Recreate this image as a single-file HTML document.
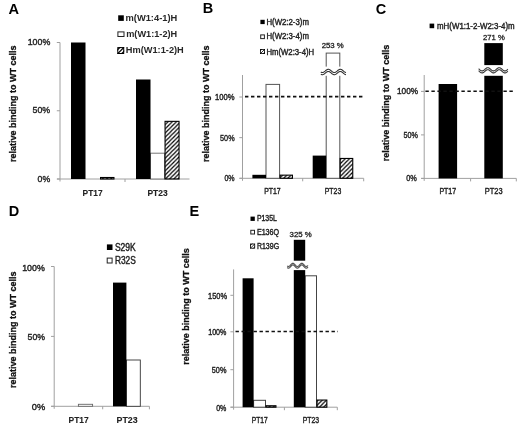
<!DOCTYPE html>
<html><head><meta charset="utf-8"><style>
html,body{margin:0;padding:0;background:#fff;}
svg{display:block;will-change:transform;filter:blur(0.35px);}
text{font-family:"Liberation Sans", sans-serif;}
</style></head><body>
<svg width="520" height="425" viewBox="0 0 520 425">
<rect width="520" height="425" fill="#fff"/>
<defs>
<pattern id="hp" patternUnits="userSpaceOnUse" width="4.2" height="4.2"><path d="M-1.05,1.05 L1.05,-1.05 M0,4.2 L4.2,0 M3.15,5.25 L5.25,3.15" stroke="#000" stroke-width="1.2"/></pattern>
</defs>
<text x="8.6" y="13.6" font-size="14.6" font-weight="bold" fill="#000" text-anchor="start">A</text>
<rect x="118.20" y="15.30" width="5.60" height="5.60" fill="#000"/>
<text x="125.5" y="20.6" font-size="9.0" font-weight="bold" fill="#262626" text-anchor="start" textLength="51.8" lengthAdjust="spacingAndGlyphs">m(W1:4-1)H</text>
<rect x="117.9" y="31.9" width="6.1" height="4.6" fill="#fff" stroke="#222" stroke-width="1"/>
<text x="126.2" y="36.6" font-size="9.0" font-weight="bold" fill="#262626" text-anchor="start" textLength="51.0" lengthAdjust="spacingAndGlyphs">m(W1:1-2)H</text>
<clipPath id="lc1"><rect x="117.3" y="47.1" width="6.9" height="6.9"/></clipPath>
<rect x="117.3" y="47.1" width="6.9" height="6.9" fill="#fff"/>
<g clip-path="url(#lc1)" stroke="#000" stroke-width="1.2"><line x1="116.3" y1="55.0" x2="125.2" y2="46.1"/><line x1="112.298" y1="55.0" x2="121.19800000000001" y2="46.1"/><line x1="120.30199999999999" y1="55.0" x2="129.202" y2="46.1"/></g>
<rect x="117.8" y="47.6" width="5.9" height="5.9" fill="none" stroke="#000" stroke-width="1.0"/>
<text x="125.8" y="52.6" font-size="9.0" font-weight="bold" fill="#262626" text-anchor="start" textLength="58.0" lengthAdjust="spacingAndGlyphs">Hm(W1:1-2)H</text>
<text transform="translate(16.0,103.8) rotate(-90)" font-size="9.8" font-weight="bold" fill="#111" stroke="#111" stroke-width="0.3" text-anchor="middle" textLength="116.5" lengthAdjust="spacingAndGlyphs">relative binding to WT cells</text>
<line x1="60.00" y1="42.50" x2="60.00" y2="181.50" stroke="#a0a0a0" stroke-width="1"/>
<line x1="56.80" y1="42.50" x2="60.00" y2="42.50" stroke="#a0a0a0" stroke-width="1"/>
<line x1="56.80" y1="110.75" x2="60.00" y2="110.75" stroke="#a0a0a0" stroke-width="1"/>
<line x1="56.80" y1="179.00" x2="60.00" y2="179.00" stroke="#a0a0a0" stroke-width="1"/>
<line x1="57.00" y1="179.00" x2="189.50" y2="179.00" stroke="#a0a0a0" stroke-width="1"/>
<line x1="125.00" y1="179.00" x2="125.00" y2="182.00" stroke="#a0a0a0" stroke-width="1"/>
<text x="27.699999999999996" y="45.2" font-size="9.6" font-weight="normal" fill="#222222" text-anchor="start" textLength="22.6" lengthAdjust="spacingAndGlyphs" stroke="#222222" stroke-width="0.4">100%</text>
<text x="32.6" y="113.4" font-size="9.6" font-weight="normal" fill="#222222" text-anchor="start" textLength="17.6" lengthAdjust="spacingAndGlyphs" stroke="#222222" stroke-width="0.4">50%</text>
<text x="37.6" y="181.9" font-size="9.6" font-weight="normal" fill="#222222" text-anchor="start" textLength="12.6" lengthAdjust="spacingAndGlyphs" stroke="#222222" stroke-width="0.4">0%</text>
<rect x="150.50" y="153.20" width="14.00" height="25.80" fill="#fff" stroke="#777" stroke-width="1"/>
<rect x="71.00" y="42.50" width="14.50" height="136.50" fill="#000"/>
<rect x="100.55" y="177.50" width="13.40" height="1.50" fill="url(#hp)" stroke="#000" stroke-width="1.1"/>
<rect x="136.00" y="79.50" width="14.50" height="99.50" fill="#000"/>
<rect x="165.05" y="121.35" width="14.00" height="57.65" fill="url(#hp)" stroke="#000" stroke-width="1.1"/>
<text x="82.6" y="195.6" font-size="9.8" font-weight="bold" fill="#222222" text-anchor="start" textLength="20.0" lengthAdjust="spacingAndGlyphs" stroke="#222222" stroke-width="0.1">PT17</text>
<text x="147.4" y="195.6" font-size="9.8" font-weight="bold" fill="#222222" text-anchor="start" textLength="20.2" lengthAdjust="spacingAndGlyphs" stroke="#222222" stroke-width="0.1">PT23</text>
<text x="202.8" y="13.2" font-size="14.5" font-weight="bold" fill="#000" text-anchor="start">B</text>
<rect x="260.40" y="19.80" width="4.30" height="4.30" fill="#000"/>
<text x="266.4" y="24.6" font-size="8.6" font-weight="normal" fill="#222222" text-anchor="start" textLength="42.5" lengthAdjust="spacingAndGlyphs" stroke="#222222" stroke-width="0.4">H(W2:2-3)m</text>
<rect x="260.70" y="34.90" width="3.70" height="3.70" fill="#fff" stroke="#222" stroke-width="1"/>
<text x="266.4" y="39.4" font-size="8.6" font-weight="normal" fill="#222222" text-anchor="start" textLength="42.5" lengthAdjust="spacingAndGlyphs" stroke="#222222" stroke-width="0.4">H(W2:3-4)m</text>
<clipPath id="lc2"><rect x="260.0" y="49.0" width="5.0" height="5.0"/></clipPath>
<rect x="260.0" y="49.0" width="5.0" height="5.0" fill="#fff"/>
<g clip-path="url(#lc2)" stroke="#000" stroke-width="0.8"><line x1="259.0" y1="55.0" x2="266.0" y2="48.0"/><line x1="256.1" y1="55.0" x2="263.1" y2="48.0"/><line x1="261.9" y1="55.0" x2="268.9" y2="48.0"/></g>
<rect x="260.4" y="49.4" width="4.2" height="4.2" fill="none" stroke="#000" stroke-width="0.8"/>
<text x="266.4" y="54.6" font-size="8.6" font-weight="normal" fill="#222222" text-anchor="start" textLength="47.8" lengthAdjust="spacingAndGlyphs" stroke="#222222" stroke-width="0.4">Hm(W2:3-4)H</text>
<text transform="translate(209.2,103.8) rotate(-90)" font-size="9.8" font-weight="bold" fill="#111" stroke="#111" stroke-width="0.3" text-anchor="middle" textLength="116.5" lengthAdjust="spacingAndGlyphs">relative binding to WT cells</text>
<line x1="242.50" y1="75.00" x2="242.50" y2="180.80" stroke="#a0a0a0" stroke-width="1"/>
<line x1="239.30" y1="97.00" x2="242.50" y2="97.00" stroke="#a0a0a0" stroke-width="1"/>
<line x1="239.30" y1="137.65" x2="242.50" y2="137.65" stroke="#a0a0a0" stroke-width="1"/>
<line x1="239.30" y1="178.30" x2="242.50" y2="178.30" stroke="#a0a0a0" stroke-width="1"/>
<line x1="239.50" y1="178.30" x2="363.70" y2="178.30" stroke="#a0a0a0" stroke-width="1"/>
<line x1="302.70" y1="178.30" x2="302.70" y2="181.30" stroke="#a0a0a0" stroke-width="1"/>
<line x1="363.70" y1="178.30" x2="363.70" y2="181.30" stroke="#a0a0a0" stroke-width="1"/>
<text x="215.1" y="100.0" font-size="8.8" font-weight="normal" fill="#222222" text-anchor="start" textLength="19.5" lengthAdjust="spacingAndGlyphs" stroke="#222222" stroke-width="0.4">100%</text>
<text x="220.1" y="140.8" font-size="8.8" font-weight="normal" fill="#222222" text-anchor="start" textLength="14.5" lengthAdjust="spacingAndGlyphs" stroke="#222222" stroke-width="0.4">50%</text>
<text x="224.4" y="181.2" font-size="8.8" font-weight="normal" fill="#222222" text-anchor="start" textLength="10.2" lengthAdjust="spacingAndGlyphs" stroke="#222222" stroke-width="0.4">0%</text>
<rect x="266.00" y="84.40" width="13.60" height="93.90" fill="#fff" stroke="#555" stroke-width="1"/>
<rect x="326.20" y="53.10" width="13.60" height="125.20" fill="#fff" stroke="#555" stroke-width="1"/>
<rect x="252.40" y="174.80" width="13.60" height="3.50" fill="#000"/>
<rect x="280.15" y="175.15" width="12.30" height="3.15" fill="url(#hp)" stroke="#000" stroke-width="1.1"/>
<rect x="312.70" y="155.60" width="13.50" height="22.70" fill="#000"/>
<rect x="340.15" y="158.45" width="12.60" height="19.85" fill="url(#hp)" stroke="#000" stroke-width="1.1"/>
<rect x="318" y="66.6" width="32" height="9.2" fill="#fff"/>
<path d="M320.80,72.03 L321.05,72.17 L321.30,72.29 L321.55,72.38 L321.80,72.45 L322.05,72.49 L322.30,72.50 L322.55,72.49 L322.80,72.45 L323.05,72.38 L323.30,72.29 L323.54,72.17 L323.79,72.03 L324.04,71.88 L324.29,71.71 L324.54,71.52 L324.79,71.32 L325.04,71.12 L325.29,70.91 L325.54,70.70 L325.79,70.49 L326.04,70.30 L326.29,70.11 L326.54,69.93 L326.79,69.78 L327.04,69.64 L327.29,69.52 L327.54,69.43 L327.79,69.36 L328.04,69.32 L328.29,69.30 L328.53,69.31 L328.78,69.35 L329.03,69.42 L329.28,69.51 L329.53,69.62 L329.78,69.76 L330.03,69.91 L330.28,70.09 L330.53,70.27 L330.78,70.47 L331.03,70.67 L331.28,70.88 L331.53,71.09 L331.78,71.30 L332.03,71.50 L332.28,71.68 L332.53,71.86 L332.78,72.02 L333.03,72.16 L333.28,72.28 L333.52,72.37 L333.77,72.44 L334.02,72.48 L334.27,72.50 L334.52,72.49 L334.77,72.45 L335.02,72.39 L335.27,72.30 L335.52,72.18 L335.77,72.05 L336.02,71.89 L336.27,71.72 L336.52,71.54 L336.77,71.34 L337.02,71.14 L337.27,70.93 L337.52,70.72 L337.77,70.51 L338.02,70.31 L338.27,70.13 L338.51,69.95 L338.76,69.79 L339.01,69.65 L339.26,69.53 L339.51,69.43 L339.76,69.36 L340.01,69.32 L340.26,69.30 L340.51,69.31 L340.76,69.35 L341.01,69.41 L341.26,69.50 L341.51,69.61 L341.76,69.74 L342.01,69.90 L342.26,70.07 L342.51,70.25 L342.76,70.45 L343.01,70.65 L343.26,70.86 L343.50,71.07 L343.75,71.28 L344.00,71.48 L344.25,71.67 L344.50,71.84 L344.75,72.00 L345.00,72.14 L345.25,72.26 L345.50,72.36 L345.75,72.43 L346.00,72.48" fill="none" stroke="#333" stroke-width="1.1"/>
<path d="M320.80,74.23 L321.05,74.37 L321.30,74.49 L321.55,74.58 L321.80,74.65 L322.05,74.69 L322.30,74.70 L322.55,74.69 L322.80,74.65 L323.05,74.58 L323.30,74.49 L323.54,74.37 L323.79,74.23 L324.04,74.08 L324.29,73.91 L324.54,73.72 L324.79,73.52 L325.04,73.32 L325.29,73.11 L325.54,72.90 L325.79,72.69 L326.04,72.50 L326.29,72.31 L326.54,72.13 L326.79,71.98 L327.04,71.84 L327.29,71.72 L327.54,71.63 L327.79,71.56 L328.04,71.52 L328.29,71.50 L328.53,71.51 L328.78,71.55 L329.03,71.62 L329.28,71.71 L329.53,71.82 L329.78,71.96 L330.03,72.11 L330.28,72.29 L330.53,72.47 L330.78,72.67 L331.03,72.87 L331.28,73.08 L331.53,73.29 L331.78,73.50 L332.03,73.70 L332.28,73.88 L332.53,74.06 L332.78,74.22 L333.03,74.36 L333.28,74.48 L333.52,74.57 L333.77,74.64 L334.02,74.68 L334.27,74.70 L334.52,74.69 L334.77,74.65 L335.02,74.59 L335.27,74.50 L335.52,74.38 L335.77,74.25 L336.02,74.09 L336.27,73.92 L336.52,73.74 L336.77,73.54 L337.02,73.34 L337.27,73.13 L337.52,72.92 L337.77,72.71 L338.02,72.51 L338.27,72.33 L338.51,72.15 L338.76,71.99 L339.01,71.85 L339.26,71.73 L339.51,71.63 L339.76,71.56 L340.01,71.52 L340.26,71.50 L340.51,71.51 L340.76,71.55 L341.01,71.61 L341.26,71.70 L341.51,71.81 L341.76,71.94 L342.01,72.10 L342.26,72.27 L342.51,72.45 L342.76,72.65 L343.01,72.85 L343.26,73.06 L343.50,73.27 L343.75,73.48 L344.00,73.68 L344.25,73.87 L344.50,74.04 L344.75,74.20 L345.00,74.34 L345.25,74.46 L345.50,74.56 L345.75,74.63 L346.00,74.68" fill="none" stroke="#333" stroke-width="1.1"/>
<text x="321.7" y="47.8" font-size="7.8" font-weight="normal" fill="#222" text-anchor="start" textLength="22.1" lengthAdjust="spacingAndGlyphs" stroke="#222" stroke-width="0.3">253 %</text>
<line x1="245.00" y1="96.60" x2="363.70" y2="96.60" stroke="#111" stroke-width="1.6" stroke-dasharray="3.4 2.6"/>
<text x="264.2" y="194.4" font-size="8.8" font-weight="normal" fill="#222222" text-anchor="start" textLength="16.5" lengthAdjust="spacingAndGlyphs" stroke="#222222" stroke-width="0.4">PT17</text>
<text x="324.8" y="194.4" font-size="8.8" font-weight="normal" fill="#222222" text-anchor="start" textLength="16.4" lengthAdjust="spacingAndGlyphs" stroke="#222222" stroke-width="0.4">PT23</text>
<text x="375.7" y="13.7" font-size="14.5" font-weight="bold" fill="#000" text-anchor="start">C</text>
<rect x="429.60" y="23.60" width="4.60" height="4.60" fill="#000"/>
<text x="437" y="28.6" font-size="8.6" font-weight="normal" fill="#222222" text-anchor="start" textLength="77.7" lengthAdjust="spacingAndGlyphs" stroke="#222222" stroke-width="0.4">mH(W1:1-2-W2:3-4)m</text>
<text transform="translate(389.1,103.0) rotate(-90)" font-size="9.8" font-weight="bold" fill="#111" stroke="#111" stroke-width="0.3" text-anchor="middle" textLength="116.5" lengthAdjust="spacingAndGlyphs">relative binding to WT cells</text>
<line x1="424.20" y1="75.00" x2="424.20" y2="180.90" stroke="#a0a0a0" stroke-width="1"/>
<line x1="421.00" y1="91.40" x2="424.20" y2="91.40" stroke="#a0a0a0" stroke-width="1"/>
<line x1="421.00" y1="134.90" x2="424.20" y2="134.90" stroke="#a0a0a0" stroke-width="1"/>
<line x1="421.00" y1="178.40" x2="424.20" y2="178.40" stroke="#a0a0a0" stroke-width="1"/>
<line x1="421.20" y1="178.40" x2="516.30" y2="178.40" stroke="#a0a0a0" stroke-width="1"/>
<line x1="470.60" y1="178.40" x2="470.60" y2="181.40" stroke="#a0a0a0" stroke-width="1"/>
<line x1="516.30" y1="178.40" x2="516.30" y2="181.40" stroke="#a0a0a0" stroke-width="1"/>
<text x="397.0" y="94.3" font-size="8.8" font-weight="normal" fill="#222222" text-anchor="start" textLength="21.0" lengthAdjust="spacingAndGlyphs" stroke="#222222" stroke-width="0.4">100%</text>
<text x="403.6" y="137.7" font-size="8.8" font-weight="normal" fill="#222222" text-anchor="start" textLength="14.4" lengthAdjust="spacingAndGlyphs" stroke="#222222" stroke-width="0.4">50%</text>
<text x="406.2" y="181.2" font-size="8.8" font-weight="normal" fill="#222222" text-anchor="start" textLength="10.6" lengthAdjust="spacingAndGlyphs" stroke="#222222" stroke-width="0.4">0%</text>
<rect x="438.60" y="84.00" width="18.50" height="94.40" fill="#000"/>
<rect x="484.30" y="43.10" width="18.50" height="135.30" fill="#000"/>
<rect x="476" y="65.1" width="34" height="10.7" fill="#fff"/>
<path d="M478.60,68.74 L478.85,68.95 L479.10,69.16 L479.34,69.38 L479.59,69.60 L479.84,69.81 L480.09,70.01 L480.34,70.20 L480.59,70.37 L480.83,70.53 L481.08,70.66 L481.33,70.76 L481.58,70.83 L481.83,70.88 L482.08,70.90 L482.32,70.89 L482.57,70.85 L482.82,70.78 L483.07,70.68 L483.32,70.55 L483.57,70.41 L483.81,70.24 L484.06,70.05 L484.31,69.85 L484.56,69.64 L484.81,69.43 L485.06,69.21 L485.30,68.99 L485.55,68.78 L485.80,68.58 L486.05,68.39 L486.30,68.22 L486.55,68.07 L486.79,67.94 L487.04,67.84 L487.29,67.76 L487.54,67.72 L487.79,67.70 L488.04,67.71 L488.28,67.76 L488.53,67.83 L488.78,67.93 L489.03,68.05 L489.28,68.20 L489.53,68.37 L489.77,68.56 L490.02,68.76 L490.27,68.97 L490.52,69.18 L490.77,69.40 L491.02,69.62 L491.26,69.83 L491.51,70.03 L491.76,70.22 L492.01,70.39 L492.26,70.54 L492.51,70.67 L492.75,70.77 L493.00,70.84 L493.25,70.88 L493.50,70.90 L493.75,70.89 L493.99,70.84 L494.24,70.77 L494.49,70.67 L494.74,70.54 L494.99,70.39 L495.24,70.22 L495.48,70.03 L495.73,69.83 L495.98,69.62 L496.23,69.41 L496.48,69.19 L496.73,68.97 L496.97,68.76 L497.22,68.56 L497.47,68.37 L497.72,68.20 L497.97,68.06 L498.22,67.93 L498.46,67.83 L498.71,67.76 L498.96,67.71 L499.21,67.70 L499.46,67.72 L499.71,67.76 L499.95,67.84 L500.20,67.94 L500.45,68.07 L500.70,68.22 L500.95,68.39 L501.20,68.57 L501.44,68.78 L501.69,68.99 L501.94,69.20 L502.19,69.42 L502.44,69.64 L502.69,69.85 L502.93,70.05 L503.18,70.23 L503.43,70.40 L503.68,70.55 L503.93,70.68 L504.18,70.77 L504.42,70.85 L504.67,70.89 L504.92,70.90 L505.17,70.88 L505.42,70.84 L505.67,70.76 L505.91,70.66 L506.16,70.53 L506.41,70.38 L506.66,70.21 L506.91,70.02 L507.16,69.82 L507.40,69.60 L507.65,69.39 L507.90,69.17" fill="none" stroke="#333" stroke-width="1.1"/>
<path d="M478.60,70.74 L478.85,70.95 L479.10,71.16 L479.34,71.38 L479.59,71.60 L479.84,71.81 L480.09,72.01 L480.34,72.20 L480.59,72.37 L480.83,72.53 L481.08,72.66 L481.33,72.76 L481.58,72.83 L481.83,72.88 L482.08,72.90 L482.32,72.89 L482.57,72.85 L482.82,72.78 L483.07,72.68 L483.32,72.55 L483.57,72.41 L483.81,72.24 L484.06,72.05 L484.31,71.85 L484.56,71.64 L484.81,71.43 L485.06,71.21 L485.30,70.99 L485.55,70.78 L485.80,70.58 L486.05,70.39 L486.30,70.22 L486.55,70.07 L486.79,69.94 L487.04,69.84 L487.29,69.76 L487.54,69.72 L487.79,69.70 L488.04,69.71 L488.28,69.76 L488.53,69.83 L488.78,69.93 L489.03,70.05 L489.28,70.20 L489.53,70.37 L489.77,70.56 L490.02,70.76 L490.27,70.97 L490.52,71.18 L490.77,71.40 L491.02,71.62 L491.26,71.83 L491.51,72.03 L491.76,72.22 L492.01,72.39 L492.26,72.54 L492.51,72.67 L492.75,72.77 L493.00,72.84 L493.25,72.88 L493.50,72.90 L493.75,72.89 L493.99,72.84 L494.24,72.77 L494.49,72.67 L494.74,72.54 L494.99,72.39 L495.24,72.22 L495.48,72.03 L495.73,71.83 L495.98,71.62 L496.23,71.41 L496.48,71.19 L496.73,70.97 L496.97,70.76 L497.22,70.56 L497.47,70.37 L497.72,70.20 L497.97,70.06 L498.22,69.93 L498.46,69.83 L498.71,69.76 L498.96,69.71 L499.21,69.70 L499.46,69.72 L499.71,69.76 L499.95,69.84 L500.20,69.94 L500.45,70.07 L500.70,70.22 L500.95,70.39 L501.20,70.57 L501.44,70.78 L501.69,70.99 L501.94,71.20 L502.19,71.42 L502.44,71.64 L502.69,71.85 L502.93,72.05 L503.18,72.23 L503.43,72.40 L503.68,72.55 L503.93,72.68 L504.18,72.77 L504.42,72.85 L504.67,72.89 L504.92,72.90 L505.17,72.88 L505.42,72.84 L505.67,72.76 L505.91,72.66 L506.16,72.53 L506.41,72.38 L506.66,72.21 L506.91,72.02 L507.16,71.82 L507.40,71.60 L507.65,71.39 L507.90,71.17" fill="none" stroke="#333" stroke-width="1.1"/>
<text x="483" y="39.6" font-size="7.8" font-weight="normal" fill="#222" text-anchor="start" textLength="21.8" lengthAdjust="spacingAndGlyphs" stroke="#222" stroke-width="0.3">271 %</text>
<line x1="425.40" y1="91.30" x2="513.80" y2="91.30" stroke="#111" stroke-width="1.6" stroke-dasharray="3.4 2.6"/>
<text x="439.4" y="194.3" font-size="8.8" font-weight="normal" fill="#222222" text-anchor="start" textLength="16.8" lengthAdjust="spacingAndGlyphs" stroke="#222222" stroke-width="0.4">PT17</text>
<text x="484.8" y="194.3" font-size="8.8" font-weight="normal" fill="#222222" text-anchor="start" textLength="17.7" lengthAdjust="spacingAndGlyphs" stroke="#222222" stroke-width="0.4">PT23</text>
<text x="8.8" y="216" font-size="14.5" font-weight="bold" fill="#000" text-anchor="start">D</text>
<rect x="106.90" y="244.40" width="5.60" height="5.60" fill="#000"/>
<text x="114.9" y="250.9" font-size="10.0" font-weight="normal" fill="#222222" text-anchor="start" textLength="20.9" lengthAdjust="spacingAndGlyphs" stroke="#222222" stroke-width="0.4">S29K</text>
<rect x="107.20" y="258.10" width="4.90" height="4.90" fill="#fff" stroke="#222" stroke-width="1"/>
<text x="114.9" y="264.3" font-size="10.0" font-weight="normal" fill="#222222" text-anchor="start" textLength="20.9" lengthAdjust="spacingAndGlyphs" stroke="#222222" stroke-width="0.4">R32S</text>
<text transform="translate(15.6,329.8) rotate(-90)" font-size="9.8" font-weight="bold" fill="#111" stroke="#111" stroke-width="0.3" text-anchor="middle" textLength="116.5" lengthAdjust="spacingAndGlyphs">relative binding to WT cells</text>
<line x1="54.20" y1="266.50" x2="54.20" y2="408.80" stroke="#a0a0a0" stroke-width="1"/>
<line x1="51.00" y1="266.50" x2="54.20" y2="266.50" stroke="#a0a0a0" stroke-width="1"/>
<line x1="51.00" y1="336.40" x2="54.20" y2="336.40" stroke="#a0a0a0" stroke-width="1"/>
<line x1="51.00" y1="406.30" x2="54.20" y2="406.30" stroke="#a0a0a0" stroke-width="1"/>
<line x1="51.20" y1="406.30" x2="149.40" y2="406.30" stroke="#a0a0a0" stroke-width="1"/>
<line x1="102.70" y1="406.30" x2="102.70" y2="409.30" stroke="#a0a0a0" stroke-width="1"/>
<line x1="149.40" y1="406.30" x2="149.40" y2="409.30" stroke="#a0a0a0" stroke-width="1"/>
<text x="22.199999999999996" y="270.6" font-size="9.2" font-weight="normal" fill="#222222" text-anchor="start" textLength="22.6" lengthAdjust="spacingAndGlyphs" stroke="#222222" stroke-width="0.4">100%</text>
<text x="27.6" y="340.2" font-size="9.2" font-weight="normal" fill="#222222" text-anchor="start" textLength="17.4" lengthAdjust="spacingAndGlyphs" stroke="#222222" stroke-width="0.4">50%</text>
<text x="31.800000000000004" y="409.9" font-size="9.2" font-weight="normal" fill="#222222" text-anchor="start" textLength="13.4" lengthAdjust="spacingAndGlyphs" stroke="#222222" stroke-width="0.4">0%</text>
<rect x="78.40" y="404.30" width="14.20" height="2.00" fill="#fff" stroke="#666" stroke-width="0.9"/>
<rect x="126.40" y="360.00" width="13.90" height="46.30" fill="#fff" stroke="#333" stroke-width="0.9"/>
<rect x="113.00" y="282.60" width="13.40" height="123.70" fill="#000"/>
<text x="68.5" y="422.9" font-size="9.8" font-weight="bold" fill="#222222" text-anchor="start" textLength="20.2" lengthAdjust="spacingAndGlyphs" stroke="#222222" stroke-width="0.1">PT17</text>
<text x="116.6" y="422.9" font-size="9.8" font-weight="bold" fill="#222222" text-anchor="start" textLength="21.1" lengthAdjust="spacingAndGlyphs" stroke="#222222" stroke-width="0.1">PT23</text>
<text x="189.4" y="215.8" font-size="14.5" font-weight="bold" fill="#000" text-anchor="start">E</text>
<rect x="250.50" y="216.60" width="4.30" height="4.30" fill="#000"/>
<text x="256.9" y="221.3" font-size="8.2" font-weight="normal" fill="#222222" text-anchor="start" textLength="19.9" lengthAdjust="spacingAndGlyphs" stroke="#222222" stroke-width="0.4">P135L</text>
<rect x="250.80" y="230.30" width="3.70" height="3.70" fill="#fff" stroke="#222" stroke-width="1"/>
<text x="256.9" y="235.1" font-size="8.2" font-weight="normal" fill="#222222" text-anchor="start" textLength="22.2" lengthAdjust="spacingAndGlyphs" stroke="#222222" stroke-width="0.4">E136Q</text>
<clipPath id="lc3"><rect x="250.1" y="243.6" width="5.0" height="5.0"/></clipPath>
<rect x="250.1" y="243.6" width="5.0" height="5.0" fill="#fff"/>
<g clip-path="url(#lc3)" stroke="#000" stroke-width="0.8"><line x1="249.1" y1="249.6" x2="256.1" y2="242.6"/><line x1="246.2" y1="249.6" x2="253.2" y2="242.6"/><line x1="252.0" y1="249.6" x2="259.0" y2="242.6"/></g>
<rect x="250.5" y="244.0" width="4.2" height="4.2" fill="none" stroke="#000" stroke-width="0.8"/>
<text x="256.9" y="248.5" font-size="8.2" font-weight="normal" fill="#222222" text-anchor="start" textLength="22.2" lengthAdjust="spacingAndGlyphs" stroke="#222222" stroke-width="0.4">R139G</text>
<text transform="translate(188.6,306.4) rotate(-90)" font-size="9.8" font-weight="bold" fill="#111" stroke="#111" stroke-width="0.3" text-anchor="middle" textLength="116.5" lengthAdjust="spacingAndGlyphs">relative binding to WT cells</text>
<line x1="233.60" y1="269.40" x2="233.60" y2="409.70" stroke="#a0a0a0" stroke-width="1"/>
<line x1="230.40" y1="407.20" x2="233.60" y2="407.20" stroke="#a0a0a0" stroke-width="1"/>
<line x1="230.40" y1="369.70" x2="233.60" y2="369.70" stroke="#a0a0a0" stroke-width="1"/>
<line x1="230.40" y1="331.80" x2="233.60" y2="331.80" stroke="#a0a0a0" stroke-width="1"/>
<line x1="230.40" y1="295.30" x2="233.60" y2="295.30" stroke="#a0a0a0" stroke-width="1"/>
<line x1="230.60" y1="407.20" x2="337.30" y2="407.20" stroke="#a0a0a0" stroke-width="1"/>
<line x1="284.40" y1="407.20" x2="284.40" y2="410.20" stroke="#a0a0a0" stroke-width="1"/>
<line x1="337.30" y1="407.20" x2="337.30" y2="410.20" stroke="#a0a0a0" stroke-width="1"/>
<text x="208.0" y="299.2" font-size="8.8" font-weight="normal" fill="#222222" text-anchor="start" textLength="19.0" lengthAdjust="spacingAndGlyphs" stroke="#222222" stroke-width="0.4">150%</text>
<text x="208.20000000000002" y="335.4" font-size="8.8" font-weight="normal" fill="#222222" text-anchor="start" textLength="18.2" lengthAdjust="spacingAndGlyphs" stroke="#222222" stroke-width="0.4">100%</text>
<text x="211.8" y="373.4" font-size="8.8" font-weight="normal" fill="#222222" text-anchor="start" textLength="14.6" lengthAdjust="spacingAndGlyphs" stroke="#222222" stroke-width="0.4">50%</text>
<text x="216.20000000000002" y="410.8" font-size="8.8" font-weight="normal" fill="#222222" text-anchor="start" textLength="10.2" lengthAdjust="spacingAndGlyphs" stroke="#222222" stroke-width="0.4">0%</text>
<rect x="253.60" y="400.30" width="11.90" height="6.90" fill="#fff" stroke="#444" stroke-width="1"/>
<rect x="305.20" y="275.80" width="11.30" height="131.40" fill="#fff" stroke="#444" stroke-width="1"/>
<rect x="242.60" y="278.30" width="11.00" height="128.90" fill="#000"/>
<rect x="266.05" y="405.75" width="9.90" height="1.45" fill="url(#hp)" stroke="#000" stroke-width="1.1"/>
<rect x="293.80" y="239.80" width="11.40" height="167.40" fill="#000"/>
<rect x="317.05" y="400.05" width="9.80" height="7.15" fill="url(#hp)" stroke="#000" stroke-width="1.1"/>
<rect x="284" y="260.7" width="26" height="9.4" fill="#fff"/>
<path d="M287.20,265.92 L287.45,266.12 L287.70,266.28 L287.94,266.40 L288.19,266.47 L288.44,266.50 L288.69,266.48 L288.93,266.41 L289.18,266.29 L289.43,266.13 L289.68,265.94 L289.92,265.71 L290.17,265.46 L290.42,265.19 L290.67,264.91 L290.91,264.63 L291.16,264.36 L291.41,264.11 L291.66,263.88 L291.90,263.68 L292.15,263.52 L292.40,263.40 L292.65,263.33 L292.90,263.30 L293.14,263.32 L293.39,263.39 L293.64,263.51 L293.89,263.67 L294.13,263.87 L294.38,264.10 L294.63,264.35 L294.88,264.62 L295.12,264.90 L295.37,265.18 L295.62,265.45 L295.87,265.70 L296.11,265.93 L296.36,266.13 L296.61,266.29 L296.86,266.40 L297.10,266.48 L297.35,266.50 L297.60,266.48 L297.85,266.40 L298.10,266.28 L298.34,266.12 L298.59,265.92 L298.84,265.70 L299.09,265.44 L299.33,265.17 L299.58,264.89 L299.83,264.62 L300.08,264.35 L300.32,264.09 L300.57,263.87 L300.82,263.67 L301.07,263.51 L301.31,263.39 L301.56,263.32 L301.81,263.30 L302.06,263.33 L302.30,263.40 L302.55,263.52 L302.80,263.68 L303.05,263.88 L303.30,264.11 L303.54,264.37 L303.79,264.64 L304.04,264.91 L304.29,265.19 L304.53,265.46 L304.78,265.71 L305.03,265.94 L305.28,266.14 L305.52,266.29 L305.77,266.41 L306.02,266.48 L306.27,266.50 L306.51,266.47 L306.76,266.40 L307.01,266.28 L307.26,266.11 L307.50,265.91 L307.75,265.68 L308.00,265.43" fill="none" stroke="#555" stroke-width="1.2"/>
<path d="M287.20,267.52 L287.45,267.72 L287.70,267.88 L287.94,268.00 L288.19,268.07 L288.44,268.10 L288.69,268.08 L288.93,268.01 L289.18,267.89 L289.43,267.73 L289.68,267.54 L289.92,267.31 L290.17,267.06 L290.42,266.79 L290.67,266.51 L290.91,266.23 L291.16,265.96 L291.41,265.71 L291.66,265.48 L291.90,265.28 L292.15,265.12 L292.40,265.00 L292.65,264.93 L292.90,264.90 L293.14,264.92 L293.39,264.99 L293.64,265.11 L293.89,265.27 L294.13,265.47 L294.38,265.70 L294.63,265.95 L294.88,266.22 L295.12,266.50 L295.37,266.78 L295.62,267.05 L295.87,267.30 L296.11,267.53 L296.36,267.73 L296.61,267.89 L296.86,268.00 L297.10,268.08 L297.35,268.10 L297.60,268.08 L297.85,268.00 L298.10,267.88 L298.34,267.72 L298.59,267.52 L298.84,267.30 L299.09,267.04 L299.33,266.77 L299.58,266.49 L299.83,266.22 L300.08,265.95 L300.32,265.69 L300.57,265.47 L300.82,265.27 L301.07,265.11 L301.31,264.99 L301.56,264.92 L301.81,264.90 L302.06,264.93 L302.30,265.00 L302.55,265.12 L302.80,265.28 L303.05,265.48 L303.30,265.71 L303.54,265.97 L303.79,266.24 L304.04,266.51 L304.29,266.79 L304.53,267.06 L304.78,267.31 L305.03,267.54 L305.28,267.74 L305.52,267.89 L305.77,268.01 L306.02,268.08 L306.27,268.10 L306.51,268.07 L306.76,268.00 L307.01,267.88 L307.26,267.71 L307.50,267.51 L307.75,267.28 L308.00,267.03" fill="none" stroke="#555" stroke-width="1.2"/>
<text x="289.6" y="236.5" font-size="7.8" font-weight="normal" fill="#222" text-anchor="start" textLength="22.2" lengthAdjust="spacingAndGlyphs" stroke="#222" stroke-width="0.3">325 %</text>
<line x1="235.50" y1="331.50" x2="338.00" y2="331.50" stroke="#111" stroke-width="1.6" stroke-dasharray="3.4 2.6"/>
<text x="251.8" y="422.8" font-size="8.8" font-weight="normal" fill="#222222" text-anchor="start" textLength="15.9" lengthAdjust="spacingAndGlyphs" stroke="#222222" stroke-width="0.4">PT17</text>
<text x="302.7" y="423.0" font-size="8.8" font-weight="normal" fill="#222222" text-anchor="start" textLength="16.3" lengthAdjust="spacingAndGlyphs" stroke="#222222" stroke-width="0.4">PT23</text>
</svg>
</body></html>
